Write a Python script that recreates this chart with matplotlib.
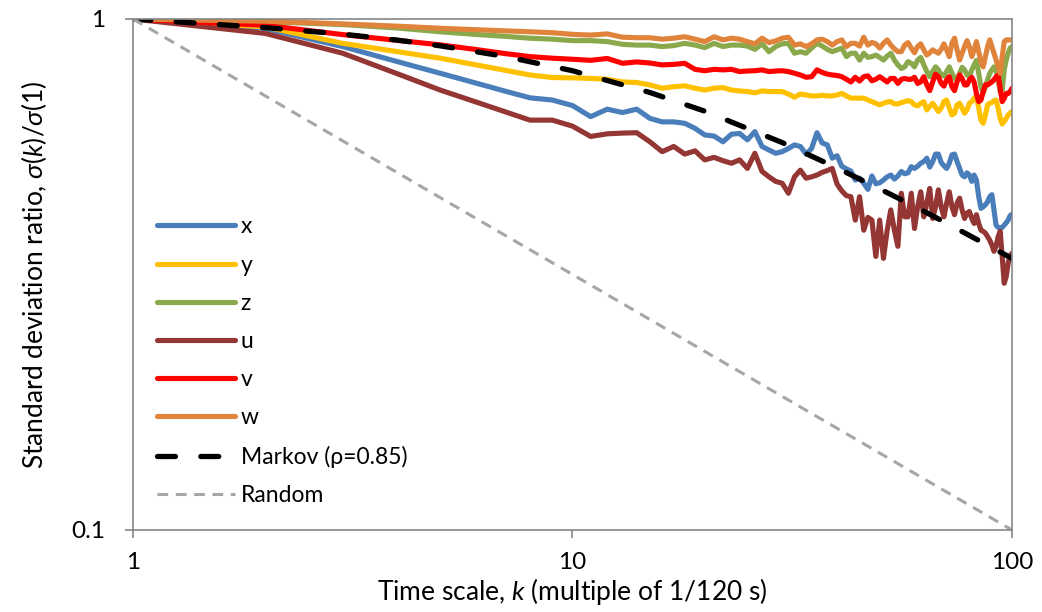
import numpy as np
import matplotlib
matplotlib.use("Agg")
import matplotlib.pyplot as plt
from matplotlib.ticker import FixedLocator, FixedFormatter, NullLocator

plt.rcParams['font.family'] = ['Lato', 'DejaVu Sans']
plt.rcParams['mathtext.fontset'] = 'custom'
plt.rcParams['mathtext.rm'] = 'Lato'
plt.rcParams['mathtext.it'] = 'Lato:italic'

# time scale k = 1..100
k = list(range(1, 101))

x_vals = [1.0, 0.958, 0.883, 0.825, 0.783, 0.750, 0.723, 0.701, 0.694, 0.677,
          0.644, 0.666, 0.656, 0.666, 0.639, 0.629, 0.629, 0.625, 0.611, 0.593,
          0.590, 0.575, 0.595, 0.597, 0.580, 0.602, 0.563, 0.554, 0.546, 0.550,
          0.558, 0.567, 0.563, 0.544, 0.558, 0.599, 0.572, 0.567, 0.534, 0.540,
          0.515, 0.509, 0.504, 0.484, 0.488, 0.477, 0.464, 0.493, 0.476, 0.478,
          0.484, 0.491, 0.495, 0.486, 0.493, 0.503, 0.498, 0.500, 0.514, 0.510,
          0.515, 0.522, 0.526, 0.534, 0.513, 0.526, 0.544, 0.544, 0.524, 0.516,
          0.510, 0.522, 0.542, 0.544, 0.526, 0.510, 0.495, 0.491, 0.500, 0.495,
          0.481, 0.495, 0.484, 0.449, 0.426, 0.429, 0.433, 0.439, 0.449, 0.453,
          0.423, 0.395, 0.391, 0.389, 0.391, 0.395, 0.399, 0.404, 0.412, 0.415]

y_vals = [1.0, 0.965, 0.896, 0.863, 0.838, 0.814, 0.794, 0.777, 0.768, 0.767,
          0.765, 0.762, 0.753, 0.751, 0.743, 0.732, 0.737, 0.740, 0.732, 0.726,
          0.732, 0.734, 0.726, 0.723, 0.721, 0.717, 0.723, 0.721, 0.721, 0.721,
          0.713, 0.703, 0.713, 0.710, 0.707, 0.707, 0.709, 0.707, 0.707, 0.710,
          0.715, 0.707, 0.700, 0.700, 0.700, 0.700, 0.694, 0.689, 0.684, 0.679,
          0.684, 0.688, 0.689, 0.682, 0.682, 0.686, 0.689, 0.692, 0.689, 0.679,
          0.676, 0.684, 0.689, 0.664, 0.674, 0.684, 0.672, 0.659, 0.669, 0.689,
          0.694, 0.669, 0.649, 0.654, 0.679, 0.684, 0.669, 0.654, 0.664, 0.684,
          0.689, 0.700, 0.707, 0.669, 0.634, 0.625, 0.649, 0.679, 0.684, 0.686,
          0.692, 0.694, 0.669, 0.639, 0.623, 0.630, 0.639, 0.649, 0.654, 0.659]

z_vals = [1.0, 0.988, 0.975, 0.960, 0.944, 0.933, 0.925, 0.917, 0.913, 0.907,
          0.907, 0.903, 0.892, 0.889, 0.889, 0.883, 0.887, 0.896, 0.889, 0.879,
          0.896, 0.883, 0.889, 0.889, 0.885, 0.872, 0.894, 0.863, 0.883, 0.894,
          0.896, 0.857, 0.863, 0.857, 0.877, 0.896, 0.885, 0.872, 0.863, 0.870,
          0.877, 0.844, 0.857, 0.857, 0.831, 0.857, 0.841, 0.844, 0.850, 0.841,
          0.831, 0.846, 0.857, 0.831, 0.813, 0.800, 0.806, 0.825, 0.819, 0.806,
          0.831, 0.841, 0.813, 0.789, 0.771, 0.789, 0.806, 0.795, 0.777, 0.774,
          0.789, 0.806, 0.783, 0.765, 0.762, 0.783, 0.804, 0.795, 0.777, 0.771,
          0.795, 0.813, 0.830, 0.783, 0.737, 0.715, 0.737, 0.760, 0.783, 0.795,
          0.806, 0.795, 0.760, 0.720, 0.726, 0.795, 0.831, 0.857, 0.877, 0.883]

u_vals = [1.0, 0.937, 0.857, 0.781, 0.726, 0.689, 0.659, 0.634, 0.634, 0.617,
          0.589, 0.596, 0.598, 0.599, 0.575, 0.550, 0.563, 0.544, 0.552, 0.530,
          0.536, 0.528, 0.522, 0.530, 0.510, 0.546, 0.503, 0.491, 0.481, 0.477,
          0.456, 0.491, 0.506, 0.488, 0.491, 0.495, 0.501, 0.505, 0.510, 0.475,
          0.461, 0.451, 0.449, 0.404, 0.449, 0.386, 0.409, 0.404, 0.343, 0.404,
          0.340, 0.386, 0.423, 0.386, 0.359, 0.456, 0.410, 0.410, 0.456, 0.389,
          0.429, 0.459, 0.410, 0.436, 0.466, 0.407, 0.429, 0.463, 0.429, 0.410,
          0.436, 0.459, 0.429, 0.414, 0.436, 0.446, 0.423, 0.407, 0.417, 0.420,
          0.407, 0.398, 0.414, 0.398, 0.386, 0.384, 0.381, 0.375, 0.369, 0.361,
          0.351, 0.359, 0.375, 0.384, 0.343, 0.304, 0.313, 0.333, 0.343, 0.348]

v_vals = [1.0, 0.972, 0.932, 0.908, 0.890, 0.872, 0.856, 0.844, 0.838, 0.834,
          0.830, 0.837, 0.819, 0.824, 0.820, 0.813, 0.815, 0.819, 0.797, 0.792,
          0.797, 0.795, 0.797, 0.789, 0.791, 0.792, 0.795, 0.789, 0.791, 0.792,
          0.789, 0.783, 0.777, 0.769, 0.771, 0.795, 0.786, 0.780, 0.777, 0.775,
          0.771, 0.762, 0.753, 0.769, 0.756, 0.771, 0.774, 0.757, 0.762, 0.771,
          0.762, 0.753, 0.765, 0.765, 0.748, 0.762, 0.765, 0.762, 0.762, 0.769,
          0.748, 0.753, 0.771, 0.743, 0.724, 0.753, 0.780, 0.771, 0.748, 0.739,
          0.760, 0.771, 0.737, 0.724, 0.753, 0.777, 0.765, 0.743, 0.743, 0.760,
          0.769, 0.753, 0.715, 0.689, 0.694, 0.721, 0.743, 0.743, 0.748, 0.753,
          0.760, 0.771, 0.777, 0.732, 0.689, 0.699, 0.715, 0.715, 0.721, 0.732]

w_vals = [1.0, 0.990, 0.978, 0.968, 0.959, 0.953, 0.948, 0.944, 0.940, 0.933,
          0.930, 0.935, 0.921, 0.919, 0.919, 0.913, 0.917, 0.923, 0.913, 0.903,
          0.923, 0.910, 0.917, 0.913, 0.903, 0.894, 0.917, 0.899, 0.906, 0.917,
          0.921, 0.889, 0.894, 0.883, 0.894, 0.910, 0.913, 0.903, 0.889, 0.903,
          0.910, 0.883, 0.896, 0.896, 0.885, 0.921, 0.889, 0.900, 0.894, 0.877,
          0.896, 0.910, 0.889, 0.874, 0.863, 0.863, 0.889, 0.899, 0.877, 0.859,
          0.883, 0.894, 0.870, 0.850, 0.859, 0.870, 0.863, 0.857, 0.872, 0.894,
          0.870, 0.844, 0.896, 0.917, 0.870, 0.831, 0.857, 0.883, 0.907, 0.883,
          0.844, 0.870, 0.903, 0.863, 0.825, 0.806, 0.844, 0.883, 0.910, 0.883,
          0.857, 0.831, 0.806, 0.783, 0.844, 0.903, 0.910, 0.910, 0.910, 0.910]

k_markov = [1, 2, 3, 4, 5, 7, 10, 15, 20, 30, 40, 50, 60, 70, 80, 90, 100]
markov_vals = [1.0, 0.962, 0.934, 0.909, 0.886, 0.845, 0.792, 0.718, 0.660,
               0.573, 0.511, 0.465, 0.430, 0.401, 0.377, 0.357, 0.340]

k_random = [1, 100]
random_vals = [1.0, 0.1]

series = [("x", x_vals, "#4A7EBB"),
          ("y", y_vals, "#FFC000"),
          ("z", z_vals, "#8AA94C"),
          ("u", u_vals, "#943634"),
          ("v", v_vals, "#FF0000"),
          ("w", w_vals, "#E0843C")]

fig = plt.figure(figsize=(10.42, 6.12), dpi=100)
ax = fig.add_axes([0.1276, 0.134, 0.8436, 0.835])

for name, vals, col in series:
    ax.plot(k, vals, color=col, lw=3.7, label=name,
            solid_joinstyle="round", solid_capstyle="round")

ax.plot(k_markov, markov_vals, color="black", lw=3.8, label="Markov (ρ=0.85)",
        dashes=(3.4, 4.8), dash_capstyle="round")
ax.plot(k_random, random_vals, color="#A6A6A6", lw=2.2, label="Random",
        dashes=(3.5, 2.5))

ax.set_xscale("log")
ax.set_yscale("log")
ax.set_xlim(1, 100)
ax.set_ylim(0.1, 1)

ax.xaxis.set_major_locator(FixedLocator([1, 10, 100]))
ax.xaxis.set_major_formatter(FixedFormatter(["1", "10", "100"]))
ax.xaxis.set_minor_locator(NullLocator())
ax.yaxis.set_major_locator(FixedLocator([0.1, 1]))
ax.yaxis.set_major_formatter(FixedFormatter(["0.1", "1"]))
ax.yaxis.set_minor_locator(NullLocator())

for s in ax.spines.values():
    s.set_color("#868686")
    s.set_linewidth(1.2)
ax.tick_params(axis="both", which="major", direction="out", length=5.8,
               width=1.2, color="#868686", labelsize=17.5)
ax.tick_params(axis="x", pad=10)
ax.tick_params(axis="y", pad=14)

ax.set_xlabel("Time scale, $\\mathit{k}$ (multiple of 1/120 s)", fontsize=19, labelpad=2)
ax.set_ylabel("Standard deviation ratio, $\\mathit{\\sigma}$($\\mathit{k}$)/$\\mathit{\\sigma}$(1)",
              fontsize=19, labelpad=16)

ax.legend(loc="upper left", bbox_to_anchor=(0.0273, 0.6135), frameon=False,
          fontsize=16.5, handlelength=3.4, handletextpad=0.25, labelspacing=0.75,
          borderaxespad=0.0, borderpad=0.0)

fig.savefig("out.png", dpi=100)
